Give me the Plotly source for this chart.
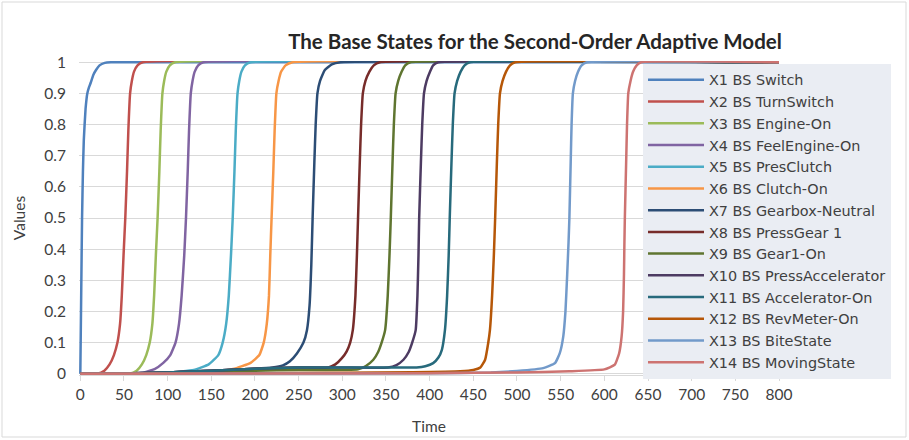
import plotly.graph_objects as go

# ---------------- data ----------------
series_names = [
    "X1 BS Switch", "X2 BS TurnSwitch", "X3 BS Engine-On", "X4 BS FeelEngine-On",
    "X5 BS PresClutch", "X6 BS Clutch-On", "X7 BS Gearbox-Neutral", "X8 BS PressGear 1",
    "X9 BS Gear1-On", "X10 BS PressAccelerator", "X11 BS Accelerator-On",
    "X12 BS RevMeter-On", "X13 BS BiteState", "X14 BS MovingState",
]

x1_t = [0, 1, 2, 3, 4, 6, 8, 10, 12, 15, 18, 22, 28, 35, 800]
x1_v = [0, 0.25, 0.5, 0.65, 0.75, 0.85, 0.9, 0.92, 0.935, 0.96, 0.975, 0.99, 0.998, 1, 1]

x2_t = [0, 19.5, 27.5, 33.5, 38.5, 42.5, 45.5, 47.5, 49.5, 51.5, 53.5, 55, 57, 59, 61.5, 65.5, 71.5, 800]
x2_v = [0, 0, 0.01, 0.03, 0.06, 0.1, 0.16, 0.25, 0.38, 0.5, 0.65, 0.78, 0.9, 0.94, 0.97, 0.99, 1, 1]

x3_t = [0, 56.5, 64.5, 70.5, 75.5, 79.5, 82.5, 84.5, 86.5, 88.5, 90.5, 92, 94, 96, 98.5, 102.5, 108.5, 800]
x3_v = [0, 0, 0.01, 0.03, 0.06, 0.1, 0.16, 0.25, 0.38, 0.5, 0.65, 0.78, 0.9, 0.94, 0.97, 0.99, 1, 1]

x4_t = [0, 70, 85, 95, 103, 109, 113, 116, 119, 121, 123, 124.5, 126.5, 128.5, 131, 135, 141, 800]
x4_v = [0, 0.003, 0.015, 0.035, 0.06, 0.1, 0.16, 0.25, 0.38, 0.5, 0.65, 0.78, 0.9, 0.94, 0.97, 0.99, 1, 1]

x5_t = [0, 100, 130, 147, 158, 163, 167, 170, 172.5, 174.5, 176.5, 178, 180, 182, 184.5, 188.5, 195, 800]
x5_v = [0, 0.003, 0.012, 0.03, 0.06, 0.1, 0.16, 0.25, 0.38, 0.5, 0.65, 0.78, 0.9, 0.94, 0.97, 0.99, 1, 1]

x6_t = [0, 150, 175, 195, 205, 210, 213.5, 216, 217.5, 219, 221, 222.5, 224.5, 227, 230, 235, 243, 800]
x6_v = [0, 0.003, 0.015, 0.035, 0.06, 0.1, 0.16, 0.25, 0.38, 0.5, 0.65, 0.78, 0.9, 0.94, 0.97, 0.99, 1, 1]

x7_t = [0, 50, 100, 150, 200, 220, 232, 240, 248, 255.5, 259.5, 262.5, 264.5, 266, 268, 269.5, 271.5,
        274.5, 280, 288, 298, 800]
x7_v = [0, 0.001, 0.004, 0.01, 0.016, 0.02, 0.027, 0.04, 0.065, 0.1, 0.14, 0.22, 0.35, 0.5, 0.68, 0.8, 0.9,
        0.94, 0.975, 0.993, 1, 1]

x8_t = [0, 50, 100, 150, 200, 250, 284, 292, 299.5, 305, 309, 312, 315, 316.7, 318, 320, 321.5, 323.5,
        326.5, 331, 336, 343, 800]
x8_v = [0, 0.001, 0.004, 0.01, 0.016, 0.02, 0.02, 0.03, 0.05, 0.072, 0.1, 0.14, 0.25, 0.38, 0.5, 0.68, 0.8, 0.9,
        0.94, 0.97, 0.99, 1, 1]

x9_t = [0, 50, 100, 150, 200, 250, 318, 327, 335.5, 341, 345, 349, 352, 354, 355.5, 357.5, 359, 361,
        364, 368, 372, 378, 800]
x9_v = [0, 0.001, 0.003, 0.007, 0.01, 0.012, 0.014, 0.025, 0.045, 0.07, 0.1, 0.14, 0.25, 0.38, 0.5, 0.68, 0.8, 0.9,
        0.94, 0.97, 0.99, 1, 1]

x10_t = [0, 50, 100, 150, 200, 250, 300, 352, 362, 370, 376, 380, 384, 386, 387.2, 388, 390, 391.5, 393.5,
         396.5, 400.5, 404, 410, 800]
x10_v = [0, 0.001, 0.004, 0.01, 0.016, 0.02, 0.02, 0.02, 0.028, 0.045, 0.07, 0.1, 0.14, 0.25, 0.38, 0.5, 0.68, 0.8,
         0.9, 0.94, 0.97, 0.99, 1, 1]

x11_t = [0, 50, 100, 150, 200, 250, 300, 350, 385, 395, 404, 410, 414, 417.5, 420, 421.8, 423, 425, 426.5,
         428.5, 431.5, 435.5, 440, 446, 800]
x11_v = [0, 0.001, 0.004, 0.01, 0.016, 0.02, 0.02, 0.02, 0.02, 0.024, 0.034, 0.052, 0.077, 0.14, 0.25, 0.38, 0.5,
         0.68, 0.8, 0.9, 0.94, 0.97, 0.99, 1, 1]

x12_t = [0, 100, 200, 300, 380, 435, 450, 458, 463.5, 467, 469, 471.5, 473.5, 475, 477, 478.5, 480.5, 483.5,
         487.5, 492, 498, 800]
x12_v = [0, 0.001, 0.002, 0.003, 0.005, 0.008, 0.012, 0.02, 0.045, 0.098, 0.14, 0.25, 0.38, 0.5, 0.68, 0.8, 0.9,
         0.94, 0.97, 0.99, 1, 1]

x13_t = [0, 200, 400, 470, 500, 530, 543.5, 549, 553, 555.5, 557.5, 559, 560, 561.5, 562.5, 564, 566.5, 570,
         574, 580, 800]
x13_v = [0, 0.0005, 0.002, 0.004, 0.009, 0.018, 0.034, 0.066, 0.12, 0.2, 0.32, 0.42, 0.5, 0.68, 0.8, 0.9, 0.94,
         0.97, 0.99, 1, 1]

x14_t = [0, 200, 400, 500, 560, 600, 612, 617, 619.8, 621.5, 622.5, 623, 623.5, 625, 626, 627.4, 630, 633,
         637, 642, 800]
x14_v = [0, 0.0005, 0.002, 0.004, 0.008, 0.014, 0.029, 0.066, 0.12, 0.2, 0.32, 0.42, 0.5, 0.68, 0.8, 0.9, 0.94,
         0.97, 0.99, 1, 1]

series_t = [x1_t, x2_t, x3_t, x4_t, x5_t, x6_t, x7_t, x8_t, x9_t, x10_t, x11_t, x12_t, x13_t, x14_t]
series_v = [x1_v, x2_v, x3_v, x4_v, x5_v, x6_v, x7_v, x8_v, x9_v, x10_v, x11_v, x12_v, x13_v, x14_v]

x_ticks = [0, 50, 100, 150, 200, 250, 300, 350, 400, 450, 500, 550, 600, 650, 700, 750, 800]
y_ticks = [0, 0.1, 0.2, 0.3, 0.4, 0.5, 0.6, 0.7, 0.8, 0.9, 1]

colors = ["#4F81BD", "#C0504D", "#9BBB59", "#8064A2", "#4BACC6", "#F79646", "#2C4D75",
          "#772C2A", "#5F7530", "#4D3B62", "#276A7C", "#B65708", "#729ACA", "#CD7371"]

# ---------------- figure ----------------
FONT = "Lato"
LEG_FONT = "DejaVu Sans"
fig = go.Figure()
for name, t, v, c in zip(series_names, series_t, series_v, colors):
    fig.add_trace(go.Scatter(x=t, y=v, mode="lines", name=name,
                             line=dict(color=c, width=2.5, shape="spline", smoothing=0.4)))

W, H = 909, 440
L, R, T, B = 79, 130, 61, 65
pw, ph = W - L - R, H - T - B

def px_x(p):
    return (p - L) / pw

def px_y(p):
    return (H - B - p) / ph

fig.update_layout(
    width=W, height=H,
    margin=dict(l=L, r=R, t=T, b=B, autoexpand=False),
    paper_bgcolor="white", plot_bgcolor="white",
    font=dict(family=FONT, size=15.5, color="#404040"),
    title=dict(text="<b>The Base States for the Second-Order Adaptive Model</b>",
               x=535 / W, xanchor="center", y=1 - 42 / H, yanchor="middle",
               font=dict(family=FONT, size=20.5, color="#262626")),
    showlegend=True,
    legend=dict(x=px_x(643), y=px_y(64), xanchor="left", yanchor="top",
                bgcolor="#EAEDF3", bordercolor="#EAEDF3", borderwidth=0,
                font=dict(family=LEG_FONT, size=14.4, color="#404040"),
                itemwidth=56, tracegroupgap=0, maxheight=360),
    xaxis=dict(range=[-1.5, 800], tickvals=x_ticks, ticktext=[str(v) for v in x_ticks],
               automargin=False,
               showgrid=False, zeroline=False, showline=True, linecolor="#D9D9D9", linewidth=1,
               ticks="outside", ticklen=5, tickcolor="#D9D9D9",
               title=dict(text="Time", font=dict(family=FONT, size=15.5, color="#404040"), standoff=19)),
    yaxis=dict(range=[-0.004, 1.004], tickvals=y_ticks, ticktext=[("%g" % v) for v in y_ticks],
               automargin=False,
               showgrid=True, gridcolor="#D9D9D9", gridwidth=1, zeroline=False, showline=False,
               ticks="", ticklabelstandoff=12,
               title=dict(text="Values", font=dict(family=FONT, size=15.5, color="#404040"), standoff=14)),
    shapes=[dict(type="rect", xref="paper", yref="paper",
                 x0=px_x(2), x1=px_x(906), y0=px_y(437), y1=px_y(2),
                 line=dict(color="#D9D9D9", width=1), fillcolor="rgba(0,0,0,0)", layer="below")],
)

fig.write_html("out.html", config={"displayModeBar": False},
               post_script="document.body.style.margin='0';")
